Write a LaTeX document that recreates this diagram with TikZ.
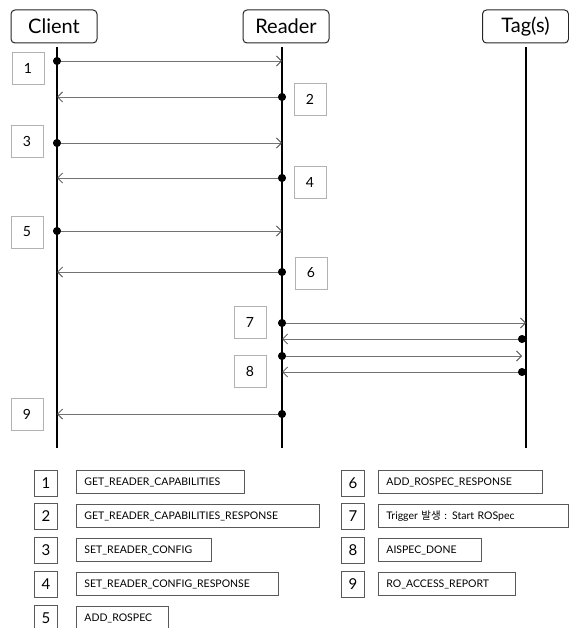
\documentclass[tikz,border=0pt]{standalone}
\usepackage{fontspec}
\setmainfont{Lato}
\newfontfamily\korfont{Noto Sans CJK KR}
\usetikzlibrary{arrows.meta}
\tikzset{
  /tikz/.cd,
  actor/.style={draw=black!85,line width=1pt,rounded corners=4pt,minimum width=86pt,minimum height=33pt,font=\fontsize{20}{20}\selectfont},
  msg/.style={draw=black!55,line width=0.8pt,shorten <=-4pt,{Circle[length=8pt,color=black]}-{Straight Barb[length=5pt,width=10pt,color=black!70]}}
}

\begin{document}
\begin{tikzpicture}[x=1pt,y=-1pt,
                        lifeline/.style={line width=1.8pt},
                        stepno/.style={draw=black!30,minimum width=32pt,minimum height=32pt,font=\fontsize{14}{14}\selectfont},
                        keyno/.style={draw=black!65,line width=0.8pt,minimum width=23pt,minimum height=26pt,font=\fontsize{15}{15}\selectfont},
                        keytext/.style={draw=black!65,line width=0.8pt,anchor=west,align=left,text height=8pt,text depth=1pt,minimum height=23pt,inner xsep=8pt,font=\fontsize{10.5}{10.5}\selectfont}]
      \useasboundingbox (0,0) rectangle (569,628);

      \node[actor] (client) at (54,26.5) {Client};
      \node[actor] (reader) at (286,26.5) {Reader};
      \node[actor] (tags) at (525.5,26.5) {Tag(s)};

      \coordinate (cl-top) at (57,47);   \coordinate (cl-end) at (57,448);
      \coordinate (rd-top) at (282,47);  \coordinate (rd-end) at (282,448);
      \coordinate (tg-top) at (526,47);  \coordinate (tg-end) at (526,448);
      \draw[lifeline] (cl-top) -- (cl-end);
      \draw[lifeline] (rd-top) -- (rd-end);
      \draw[lifeline] (tg-top) -- (tg-end);

      \foreach \i/\y in {1/61,2/97,3/143,4/178,5/231,6/272,9/414}{
        \coordinate (c\i) at (57,\y);
        \coordinate (r\i) at (282,\y);
      }
      \coordinate (r7a) at (282,323);  \coordinate (t7a) at (526,323);
      \coordinate (r7b) at (282,339);  \coordinate (t7b) at (522,339);
      \coordinate (r8a) at (282,356);  \coordinate (t8a) at (522,356);
      \coordinate (r8b) at (282,372);  \coordinate (t8b) at (522,372);

      \draw[msg] (c1) -- (r1);
      \draw[msg] (r2) -- (c2);
      \draw[msg] (c3) -- (r3);
      \draw[msg] (r4) -- (c4);
      \draw[msg] (c5) -- (r5);
      \draw[msg] (r6) -- (c6);
      \draw[msg] (r7a) -- (t7a);
      \draw[msg] (t7b) -- (r7b);
      \draw[msg] (r8a) -- (t8a);
      \draw[msg] (t8b) -- (r8b);
      \draw[msg] (r9) -- (c9);

      \node[stepno] (s1) at (28,68) {1};
      \node[stepno] (s2) at (310,99) {2};
      \node[stepno] (s3) at (27,141) {3};
      \node[stepno] (s4) at (310,182) {4};
      \node[stepno] (s5) at (27,232) {5};
      \node[stepno] (s6) at (311,273) {6};
      \node[stepno] (s7) at (250,322) {7};
      \node[stepno] (s8) at (250,371) {8};
      \node[stepno] (s9) at (27,414) {9};

      \node[keyno] (k1) at (46,483) {1};
      \node[keyno] (k2) at (46,516) {2};
      \node[keyno] (k3) at (46,550) {3};
      \node[keyno] (k4) at (46,584) {4};
      \node[keyno] (k5) at (46,618) {5};
      \node[keyno] (k6) at (353,483) {6};
      \node[keyno] (k7) at (353,516) {7};
      \node[keyno] (k8) at (353,550) {8};
      \node[keyno] (k9) at (353,584) {9};

      \node[keytext,text width=152pt] (m1) at (76,482) {GET\_READER\_CAPABILITIES};
      \node[keytext,text width=227pt] (m2) at (76,516) {GET\_READER\_CAPABILITIES\_RESPONSE};
      \node[keytext,text width=119pt] (m3) at (76,550) {SET\_READER\_CONFIG};
      \node[keytext,text width=186pt] (m4) at (76,584) {SET\_READER\_CONFIG\_RESPONSE};
      \node[keytext,text width=76pt] (m5) at (76,618) {ADD\_ROSPEC};
      \node[keytext,text width=148pt] (m6) at (378,482) {ADD\_ROSPEC\_RESPONSE};
      \node[keytext,text width=174pt] (m7) at (378,516) {Trigger {\korfont 발생} : Start ROSpec};
      \node[keytext,text width=87pt] (m8) at (378,550) {AISPEC\_DONE};
      \node[keytext,text width=121pt] (m9) at (378,584) {RO\_ACCESS\_REPORT};
    \end{tikzpicture}
\end{document}
